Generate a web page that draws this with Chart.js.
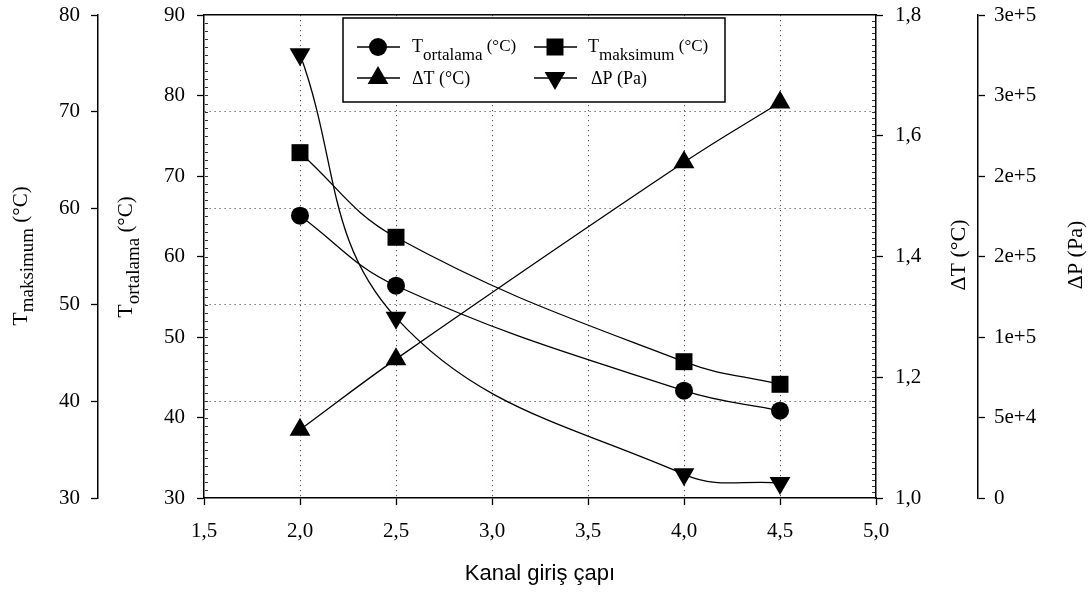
<!DOCTYPE html>
<html>
<head>
<meta charset="utf-8">
<script src="https://cdn.jsdelivr.net/npm/chart.js@4.4.1/dist/chart.umd.min.js"></script>
<style>
html,body{margin:0;padding:0;background:#fff;}
#wrap{width:1089px;height:592px;position:relative;}
</style>
</head>
<body>
<div id="wrap"><canvas id="c" width="1089" height="592"></canvas></div>
<script>
// ---- data ----
const xValues = [2.0, 2.5, 4.0, 4.5];
const tOrtalama = [65.07, 56.37, 43.33, 40.85];
const tMaksimum = [65.75, 56.99, 44.11, 41.77];
const deltaT = [1.113, 1.230, 1.556, 1.655];
const deltaP = [275600, 112000, 14700, 9300];

// ---- tick labels ----
const xTickLabels = ['1,5', '2,0', '2,5', '3,0', '3,5', '4,0', '4,5', '5,0'];
const tMaksTickLabels = ['30', '40', '50', '60', '70', '80'];
const tOrtTickLabels = ['30', '40', '50', '60', '70', '80', '90'];
const deltaTTickLabels = ['1,0', '1,2', '1,4', '1,6', '1,8'];
const deltaPTickLabels = ['0', '5e+4', '1e+5', '2e+5', '2e+5', '3e+5', '3e+5'];

// ---- texts ----
const xAxisTitle = 'Kanal giriş çapı';
const seriesNames = ['T_ortalama (°C)', 'T_maksimum (°C)', 'ΔT (°C)', 'ΔP (Pa)'];

const SERIF = '"Liberation Serif", "Times New Roman", serif';
const SANS = '"Liberation Sans", Arial, sans-serif';
const GRID_COLOR = '#5e4848';
const TICK_FONT = {family: SERIF, size: 21};

function pts(ys) { return xValues.map((x, i) => ({x: x, y: ys[i]})); }

function edgeTransparent(n) {
  return ctx => (ctx.index === 0 || ctx.index === n - 1) ? 'rgba(0,0,0,0)' : GRID_COLOR;
}

function noPad(s) { s.paddingTop = 0; s.paddingBottom = 0; }

function drawRich(ctx, x, y, parts, rotated) {
  ctx.save();
  let widths = parts.map(p => { ctx.font = p.size + 'px ' + SERIF; return ctx.measureText(p.t).width; });
  const W = widths.reduce((a, b) => a + b, 0);
  ctx.translate(x, y);
  let cx = 0;
  if (rotated) { ctx.rotate(-Math.PI / 2); cx = -W / 2; }
  ctx.fillStyle = '#000';
  ctx.textBaseline = 'alphabetic';
  ctx.textAlign = 'left';
  parts.forEach((p, i) => {
    ctx.font = p.size + 'px ' + SERIF;
    ctx.fillText(p.t, cx, p.dy || 0);
    cx += widths[i];
  });
  ctx.restore();
}

function drawMarker(ctx, style, x, y) {
  ctx.save();
  ctx.fillStyle = '#000';
  ctx.beginPath();
  if (style === 'circle') {
    ctx.arc(x, y, 9, 0, Math.PI * 2);
  } else if (style === 'rect') {
    ctx.rect(x - 8.5, y - 8.5, 17, 17);
  } else if (style === 'up') {
    const r = 12;
    ctx.moveTo(x, y - r);
    ctx.lineTo(x + r * Math.sin(2 * Math.PI / 3), y + r / 2);
    ctx.lineTo(x - r * Math.sin(2 * Math.PI / 3), y + r / 2);
    ctx.closePath();
  } else if (style === 'down') {
    const r = 12;
    ctx.moveTo(x, y + r);
    ctx.lineTo(x + r * Math.sin(2 * Math.PI / 3), y - r / 2);
    ctx.lineTo(x - r * Math.sin(2 * Math.PI / 3), y - r / 2);
    ctx.closePath();
  }
  ctx.fill();
  ctx.restore();
}

// minor (inner) ticks along an axis, positioned through the scale itself
function minorTicks(ctx, scale, from, to, step, xEdge, dir) {
  ctx.save();
  ctx.strokeStyle = '#333';
  ctx.lineWidth = 1;
  ctx.beginPath();
  const n = Math.round((to - from) / step);
  for (let i = 1; i < n; i++) {
    const py = Math.round(scale.getPixelForValue(from + i * step)) + 0.5;
    ctx.moveTo(xEdge, py);
    ctx.lineTo(xEdge + dir * 3, py);
  }
  ctx.stroke();
  ctx.restore();
}

const decorPlugin = {
  id: 'decor',
  afterDraw(chart) {
    const ctx = chart.ctx;
    const ca = chart.chartArea;
    minorTicks(ctx, chart.scales.yOrt, 30, 90, 1, ca.left + 1, 1);
    minorTicks(ctx, chart.scales.yDT, 1.0, 1.8, 0.01, ca.right - 1, -1);

    // axis titles
    drawRich(ctx, 27, 256, [
      {t: 'T', size: 22}, {t: 'maksimum', size: 19, dy: 6}, {t: ' (°C)', size: 21}
    ], true);
    drawRich(ctx, 132, 257, [
      {t: 'T', size: 22}, {t: 'ortalama', size: 19, dy: 7}, {t: ' (°C)', size: 21}
    ], true);
    drawRich(ctx, 965, 255, [{t: 'ΔT (°C)', size: 22}], true);
    drawRich(ctx, 1082, 255, [{t: 'ΔP (Pa)', size: 22}], true);

    // legend
    ctx.save();
    ctx.fillStyle = '#fff';
    ctx.fillRect(343, 18, 382, 84);
    ctx.strokeStyle = '#000';
    ctx.lineWidth = 1.5;
    ctx.strokeRect(343, 18, 382, 84);
    ctx.lineWidth = 1.3;
    const rows = [47, 78];
    const cols = [[357, 400, 378], [534, 577, 555]];
    const styles = [['circle', 'rect'], ['up', 'down']];
    rows.forEach((ry, r) => {
      cols.forEach((c, k) => {
        ctx.beginPath();
        ctx.moveTo(c[0], ry);
        ctx.lineTo(c[1], ry);
        ctx.stroke();
        drawMarker(ctx, styles[r][k], c[2], ry);
      });
    });
    ctx.restore();
    drawRich(ctx, 412, 52, [{t: 'T', size: 18}, {t: 'ortalama', size: 17, dy: 8}, {t: ' (°C)', size: 17, dy: -1}], false);
    drawRich(ctx, 588, 52, [{t: 'T', size: 18}, {t: 'maksimum', size: 17, dy: 8}, {t: ' (°C)', size: 17, dy: -1}], false);
    drawRich(ctx, 412, 84, [{t: 'ΔT (°C)', size: 18}], false);
    drawRich(ctx, 591, 84, [{t: 'ΔP (Pa)', size: 18}], false);
  }
};

const lineDs = (label, data, axis, style, rotation, radius) => ({
  label: label,
  data: pts(data),
  yAxisID: axis,
  borderColor: '#000',
  borderWidth: 1.3,
  backgroundColor: '#000',
  pointBackgroundColor: '#000',
  pointBorderColor: '#000',
  pointBorderWidth: 0,
  pointStyle: style,
  pointRotation: rotation,
  pointRadius: radius,
  pointHoverRadius: radius,
  tension: 0.4,
  fill: false,
  clip: false
});

new Chart(document.getElementById('c'), {
  type: 'line',
  data: {
    datasets: [
      lineDs(seriesNames[0], tOrtalama, 'yOrt', 'circle', 0, 9),
      lineDs(seriesNames[1], tMaksimum, 'yMaks', 'rect', 0, 12),
      lineDs(seriesNames[2], deltaT, 'yDT', 'triangle', 0, 12),
      lineDs(seriesNames[3], deltaP, 'yDP', 'triangle', 180, 12)
    ]
  },
  options: {
    responsive: false,
    animation: false,
    devicePixelRatio: 1,
    layout: {padding: {top: 15, left: 0, right: 0, bottom: 0}},
    plugins: {legend: {display: false}, tooltip: {enabled: false}, title: {display: false}},
    scales: {
      x: {
        type: 'linear', position: 'bottom', min: 1.5, max: 5.0,
        ticks: {stepSize: 0.5, autoSkip: false, maxRotation: 0, color: '#000', font: TICK_FONT, padding: 14,
          callback: (v, i) => xTickLabels[i]},
        grid: {color: edgeTransparent(xTickLabels.length), lineWidth: 1, tickLength: 7, tickColor: '#000', tickWidth: 1.3},
        border: {color: '#000', width: 1.5, dash: [1.2, 3.8]},
        title: {display: true, text: xAxisTitle, color: '#000', font: {family: SANS, size: 22}, padding: {top: 0, bottom: 5}},
        afterFit: s => { s.height = 94; s.paddingLeft = 0; s.paddingRight = 0; }
      },
      xTop: {
        type: 'linear', position: 'top', min: 1.5, max: 5.0,
        ticks: {display: false},
        grid: {display: false, drawTicks: false},
        border: {display: true, color: '#000', width: 1.5},
        afterFit: s => { s.height = 0; s.paddingLeft = 0; s.paddingRight = 0; }
      },
      yMaks: {
        type: 'linear', position: 'left', weight: 2, min: 30, max: 80,
        ticks: {stepSize: 10, color: '#000', font: TICK_FONT, padding: 11, callback: (v, i) => tMaksTickLabels[i]},
        grid: {drawOnChartArea: true, color: edgeTransparent(tMaksTickLabels.length), lineWidth: 1, tickLength: 7, tickColor: '#000', tickWidth: 1.3},
        border: {color: '#000', width: 1.5, dash: [1.2, 3.8]},
        afterFit: s => { s.width = 98; noPad(s); }
      },
      yOrt: {
        type: 'linear', position: 'left', weight: 1, min: 30, max: 90,
        ticks: {stepSize: 10, color: '#000', font: TICK_FONT, padding: 12, callback: (v, i) => tOrtTickLabels[i]},
        grid: {drawOnChartArea: false, tickLength: 7, tickColor: '#000', tickWidth: 1.3},
        border: {color: '#000', width: 1.5},
        afterFit: s => { s.width = 106; noPad(s); }
      },
      yDT: {
        type: 'linear', position: 'right', weight: 1, min: 1.0, max: 1.8,
        ticks: {stepSize: 0.2, color: '#000', font: TICK_FONT, padding: 12, callback: (v, i) => deltaTTickLabels[i]},
        grid: {drawOnChartArea: false, tickLength: 7, tickColor: '#000', tickWidth: 1.3},
        border: {color: '#000', width: 1.5},
        afterFit: s => { s.width = 102; noPad(s); }
      },
      yDP: {
        type: 'linear', position: 'right', weight: 2, min: 0, max: 300000,
        ticks: {stepSize: 50000, color: '#000', font: TICK_FONT, padding: 9, callback: (v, i) => deltaPTickLabels[i]},
        grid: {drawOnChartArea: false, tickLength: 7, tickColor: '#000', tickWidth: 1.3},
        border: {color: '#000', width: 1.5},
        afterFit: s => { s.width = 111; noPad(s); }
      }
    }
  },
  plugins: [decorPlugin]
});
</script>
</body>
</html>
